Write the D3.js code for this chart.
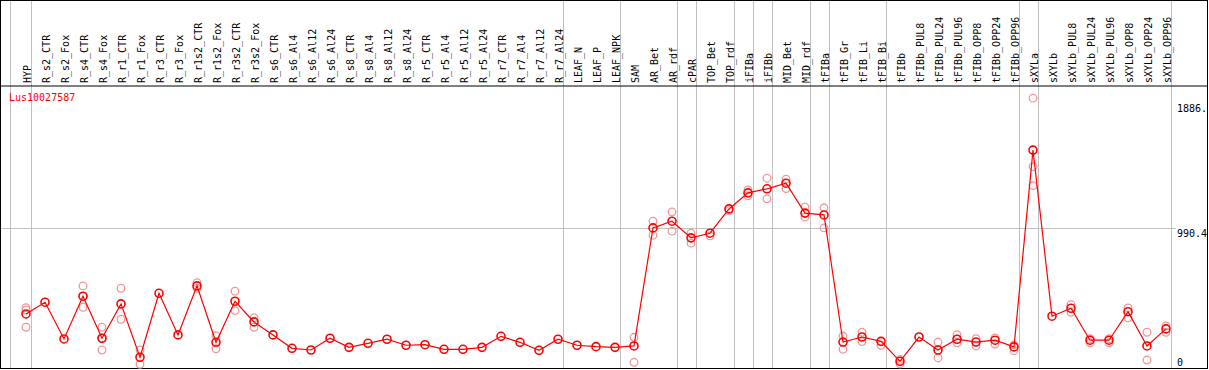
<!DOCTYPE html>
<html>
<head>
<meta charset="utf-8">
<script src="https://cdn.jsdelivr.net/npm/d3@7"></script>
<style>
  body { margin: 0; background: #fff; }
  text { font-family: "DejaVu Sans Mono", monospace; }
</style>
</head>
<body>
<svg id="chart" width="1209" height="370"></svg>
<script>
// sample names, left to right
const samples = ["HYP", "R_s2_CTR", "R_s2_Fox", "R_s4_CTR", "R_s4_Fox", "R_r1_CTR", "R_r1_Fox",
  "R_r3_CTR", "R_r3_Fox", "R_r1s2_CTR", "R_r1s2_Fox", "R_r3s2_CTR", "R_r3s2_Fox",
  "R_s6_CTR", "R_s6_Al4", "R_s6_Al12", "R_s6_Al24", "R_s8_CTR", "R_s8_Al4", "R_s8_Al12", "R_s8_Al24",
  "R_r5_CTR", "R_r5_Al4", "R_r5_Al12", "R_r5_Al24", "R_r7_CTR", "R_r7_Al4", "R_r7_Al12", "R_r7_Al24",
  "LEAF_N", "LEAF_P", "LEAF_NPK", "SAM", "AR_Bet", "AR_rdf", "cPAR", "TOP_Bet", "TOP_rdf",
  "iFIBa", "iFIBb", "MID_Bet", "MID_rdf", "tFIBa", "tFIB_Gr", "tFIB_Li", "tFIB_Bi", "tFIBb",
  "tFIBb_PUL8", "tFIBb_PUL24", "tFIBb_PUL96", "tFIBb_OPP8", "tFIBb_OPP24", "tFIBb_OPP96",
  "sXYLa", "sXYLb", "sXYLb_PUL8", "sXYLb_PUL24", "sXYLb_PUL96", "sXYLb_OPP8", "sXYLb_OPP24", "sXYLb_OPP96"];

// mean expression per sample
const means = [374, 458, 195, 501, 200, 446, 64, 522, 224, 575, 171, 465, 317,
  224, 128, 116, 200, 135, 164, 193, 150, 154, 121, 121, 135, 214, 171, 114, 193,
  150, 140, 135, 145, 990, 1038, 919, 952, 1126, 1241, 1270, 1310, 1096, 1083,
  173, 209, 178, 35, 209, 116, 193, 173, 186, 138,
  1547, 358, 415, 186, 186, 390, 145, 267];

// individual replicates per sample
const replicates = [[419, 403, 279], [], [], [575, 501, 422], [279, 200, 116], [558, 336], [116, 14],
  [], [], [598, 558], [219, 125], [537, 398], [347, 279],
  [], [], [], [], [], [], [], [], [], [], [], [], [], [], [], [],
  [], [], [], [207, 28], [1038, 938], [1105, 967], [952, 881], [933], [1114],
  [1262, 1220], [1346, 1198], [1339, 1272], [1139, 1067], [1134, 990],
  [216, 121], [243, 176], [150], [49, 16], [], [173, 59], [226, 168], [197, 145], [202, 159], [111, 152],
  [1919, 1429, 1293], [], [441, 386], [197, 168], [197, 168], [417, 347], [243, 44], [288, 243]];

// separator lines drawn after these sample indices
const groupEnds = [0, 28, 31, 34, 35, 37, 38, 39, 41, 42, 45, 52, 53, 60];
const yTicks = [0, 990.4, 1886.5];
const yTickLabels = ["0", "990.4", "1886."];
const geneName = "Lus10027587";

const svg = d3.select("#chart");
const width = 1209, height = 370;
const headerBottom = 86, plotBottom = 368.5;

const x = d3.scalePoint().domain(samples).range([26, 1166]);
const step = x.step();
const y = d3.scaleLinear().domain([0, 2006]).range([366.2, 86]);

// horizontal grid at middle tick
svg.append("line")
  .attr("x1", 0).attr("x2", 1176)
  .attr("y1", Math.round(y(990.4)) + 0.5).attr("y2", Math.round(y(990.4)) + 0.5)
  .attr("stroke", "#c0c0c0");

// vertical group separators
svg.append("line")
  .attr("x1", 10.5).attr("x2", 10.5).attr("y1", 0).attr("y2", plotBottom)
  .attr("stroke", "#c0c0c0");
svg.selectAll("line.sep")
  .data(groupEnds)
  .enter().append("line")
  .attr("class", "sep")
  .attr("x1", d => Math.round(x(samples[d]) + step / 2 - 5) + 0.5)
  .attr("x2", d => Math.round(x(samples[d]) + step / 2 - 5) + 0.5)
  .attr("y1", 0).attr("y2", plotBottom)
  .attr("stroke", "#c0c0c0");

// frame
svg.append("rect")
  .attr("x", 0.5).attr("y", 0.5).attr("width", 1207).attr("height", plotBottom - 0.5)
  .attr("fill", "none").attr("stroke", "#000");
svg.append("line")
  .attr("x1", 0).attr("x2", 1208).attr("y1", headerBottom).attr("y2", headerBottom)
  .attr("stroke", "#000");

// sample labels, rotated
svg.selectAll("text.lab")
  .data(samples)
  .enter().append("text")
  .attr("class", "lab")
  .attr("transform", d => `translate(${x(d) + 4.5},83) rotate(-90)`)
  .style("font-size", "10px")
  .style("fill", "#000")
  .text(d => d);

// y tick labels
svg.selectAll("text.tick")
  .data(yTicks)
  .enter().append("text")
  .attr("class", "tick")
  .attr("x", 1177)
  .attr("y", d => Math.min(y(d) + 9, 366))
  .style("font-size", "10px")
  .style("fill", "#000")
  .text((d, i) => yTickLabels[i]);

// gene title
svg.append("text")
  .attr("x", 9).attr("y", 101)
  .style("font-size", "10px")
  .style("fill", "#ff0000")
  .text(geneName);

// replicate points
const reps = [];
replicates.forEach((arr, i) => arr.forEach(v => reps.push({ s: samples[i], v })));
svg.selectAll("circle.rep")
  .data(reps)
  .enter().append("circle")
  .attr("class", "rep")
  .attr("cx", d => x(d.s))
  .attr("cy", d => y(d.v))
  .attr("r", 3.8)
  .attr("fill", "none")
  .attr("stroke", "#f09898")
  .attr("stroke-width", 1.3);

// mean line
svg.append("path")
  .datum(means)
  .attr("d", d3.line().x((d, i) => x(samples[i])).y(d => y(d)))
  .attr("fill", "none")
  .attr("stroke", "#ff0000")
  .attr("stroke-width", 1.2);

svg.selectAll("circle.mean")
  .data(means)
  .enter().append("circle")
  .attr("class", "mean")
  .attr("cx", (d, i) => x(samples[i]))
  .attr("cy", d => y(d))
  .attr("r", 4)
  .attr("fill", "none")
  .attr("stroke", "#ff0000")
  .attr("stroke-width", 1.6);
</script>
</body>
</html>
